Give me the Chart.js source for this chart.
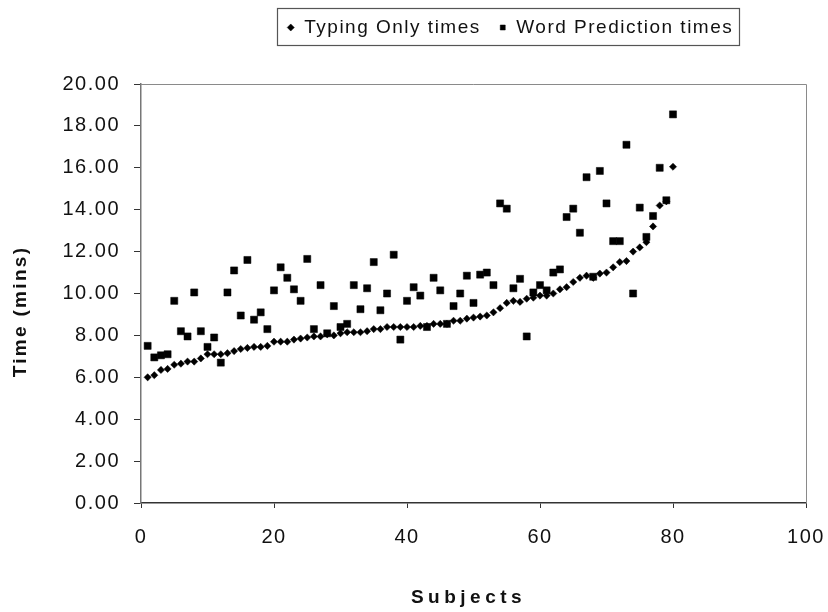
<!DOCTYPE html>
<html><head><meta charset="utf-8">
<script src="https://cdn.jsdelivr.net/npm/chart.js@4"></script>
<style>html,body{margin:0;padding:0;background:#fff}</style>
</head><body>
<canvas id="c" width="828" height="612" style="display:block;width:828px;height:612px"></canvas>
<script>
const subjects = [1,2,3,4,5,6,7,8,9,10,11,12,13,14,15,16,17,18,19,20,21,22,23,24,25,26,27,28,29,30,31,32,33,34,35,36,37,38,39,40,41,42,43,44,45,46,47,48,49,50,51,52,53,54,55,56,57,58,59,60,61,62,63,64,65,66,67,68,69,70,71,72,73,74,75,76,77,78,79,80];
const typingOnly = [6.0,6.1,6.35,6.4,6.6,6.65,6.75,6.75,6.9,7.1,7.1,7.1,7.15,7.25,7.35,7.4,7.45,7.45,7.5,7.7,7.7,7.7,7.8,7.85,7.9,7.95,7.95,8.05,8.0,8.1,8.15,8.15,8.15,8.2,8.3,8.3,8.4,8.4,8.4,8.4,8.4,8.45,8.45,8.55,8.55,8.55,8.7,8.7,8.8,8.85,8.9,8.95,9.1,9.3,9.55,9.65,9.6,9.75,9.8,9.9,9.9,10.0,10.2,10.3,10.55,10.75,10.85,10.75,10.95,11.0,11.25,11.5,11.55,12.0,12.2,12.45,13.2,14.2,14.4,16.05];
const wordPrediction = [7.5,6.95,7.05,7.1,9.65,8.2,7.95,10.05,8.2,7.45,7.9,6.7,10.05,11.1,8.95,11.6,8.75,9.1,8.3,10.15,11.25,10.75,10.2,9.65,11.65,8.3,10.4,8.1,9.4,8.4,8.55,10.4,9.25,10.25,11.5,9.2,10.0,11.85,7.8,9.65,10.3,9.9,8.4,10.75,10.15,8.55,9.4,10.0,10.85,9.55,10.9,11.0,10.4,14.3,14.05,10.25,10.7,7.95,10.05,10.4,10.15,11.0,11.15,13.65,14.05,12.9,15.55,10.8,15.85,14.3,12.5,12.5,17.1,10.0,14.1,12.7,13.7,16.0,14.45,18.55];
const seriesLabels = ['Typing Only times', 'Word Prediction times'];
const xTicks = [0,20,40,60,80,100];
const yTicks = [0,2,4,6,8,10,12,14,16,18,20];

const FONT = "'Liberation Sans', Arial, sans-serif";
const ink = '#111';

function setSpacing(ctx, s) { if ('letterSpacing' in ctx) ctx.letterSpacing = s; }

const helperPlugin = {
  id: 'helper',
  beforeInit(chart) {
    const lg = chart.legend;
    if (lg && !lg._wrapped) {
      const orig = lg.fit;
      lg.fit = function() { orig.call(this); this.height = 84; };
      lg._wrapped = true;
    }
  },
  beforeUpdate(chart) { setSpacing(chart.ctx, '1.5px'); },
  afterLayout(chart) {
    const lg = chart.legend;
    if (lg) {
      const dx = 510 - (lg.left + lg.right) / 2;
      lg.left += dx; lg.right += dx;
    }
  },
  beforeDraw(chart) {
    setSpacing(chart.ctx, '1.5px');
    const wrap = (scale, sp, dx, dy) => {
      if (scale && !scale._tw) {
        const o = scale.drawTitle;
        scale.drawTitle = function(...a) {
          const c = this.ctx; c.save(); setSpacing(c, sp); c.translate(dx, dy); o.apply(this, a); c.restore();
        };
        scale._tw = true;
      }
    };
    wrap(chart.scales.x, '4.5px', -5, 0);
    wrap(chart.scales.y, '2.3px', 0, 18);
  },
  afterDraw(chart) {
    const ctx = chart.ctx;
    const a = chart.chartArea;
    ctx.save();
    // top and right frame of plot area
    ctx.strokeStyle = '#8a8a8a';
    ctx.lineWidth = 1;
    ctx.beginPath();
    ctx.moveTo(a.left, a.top + 0.5);
    ctx.lineTo(a.right + 0.5, a.top + 0.5);
    ctx.lineTo(a.right + 0.5, a.bottom);
    ctx.stroke();
    // legend frame
    const hb = chart.legend && chart.legend.legendHitBoxes;
    if (hb && hb.length) {
      let l = Infinity, r = -Infinity;
      hb.forEach(h => { l = Math.min(l, h.left); r = Math.max(r, h.left + h.width); });
      ctx.strokeStyle = '#555';
      ctx.lineWidth = 1.2;
      ctx.strokeRect(Math.round(l - 10) + 0.5, 8.5, Math.round(r - l + 16), 37);
    }
    ctx.restore();
  }
};

const toPts = (vals) => vals.map((v, i) => ({ x: subjects[i], y: v }));

new Chart(document.getElementById('c'), {
  type: 'scatter',
  data: {
    datasets: [
      { label: seriesLabels[0], data: toPts(typingOnly), pointStyle: 'rectRot', pointRadius: 3.6,
        backgroundColor: '#000', borderColor: '#000', borderWidth: 0.5 },
      { label: seriesLabels[1], data: toPts(wordPrediction), pointStyle: 'rect', pointRadius: 5,
        backgroundColor: '#000', borderColor: '#000', borderWidth: 0.5 }
    ]
  },
  options: {
    responsive: false,
    animation: false,
    devicePixelRatio: 1,
    layout: { padding: { left: 0, right: 22, top: 0, bottom: 0 } },
    plugins: {
      tooltip: { enabled: false },
      legend: {
        position: 'top',
        labels: {
          usePointStyle: true, boxWidth: 8, boxHeight: 5, padding: 18,
          color: ink, font: { family: FONT, size: 19 }
        }
      }
    },
    scales: {
      x: {
        type: 'linear', min: 0, max: 100,
        afterFit(s) { s.height = 109; s.paddingRight = 0; s.paddingLeft = 0; },
        afterBuildTicks(s) { s.ticks = xTicks.map(v => ({ value: v })); },
        ticks: { color: ink, padding: 17, font: { family: FONT, size: 20 }, maxRotation: 0 },
        grid: { drawOnChartArea: false, drawTicks: true, tickLength: 5, color: '#333', lineWidth: 1 },
        border: { display: true, color: '#333', width: 1.5 },
        title: { display: true, text: 'Subjects', color: ink, padding: { top: 0, bottom: 3 },
          font: { family: FONT, size: 19, weight: 'bold' } }
      },
      y: {
        type: 'linear', min: 0, max: 20,
        afterFit(s) { s.width = 141; s.paddingTop = 0; s.paddingBottom = 0; },
        afterBuildTicks(s) { s.ticks = yTicks.map(v => ({ value: v })); },
        ticks: { color: ink, padding: 14, font: { family: FONT, size: 20 },
          callback: v => Number(v).toFixed(2) },
        grid: { drawOnChartArea: false, drawTicks: true, tickLength: 7, color: '#333', lineWidth: 1 },
        border: { display: true, color: '#777', width: 1.5 },
        title: { display: true, text: 'Time (mins)', color: ink, padding: { top: 9, bottom: 0 },
          font: { family: FONT, size: 19, weight: 'bold' } }
      }
    }
  },
  plugins: [helperPlugin]
});
</script>
</body></html>
